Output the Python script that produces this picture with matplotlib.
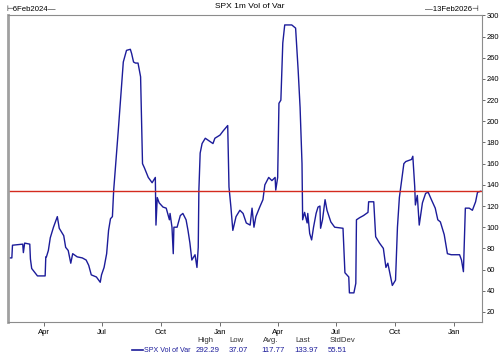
import matplotlib
matplotlib.use("Agg")
import matplotlib.pyplot as plt
import matplotlib.dates as mdates
import pandas as pd
import numpy as np

plt.rcParams['font.family'] = ['Liberation Sans', 'DejaVu Sans']

start_date = "2024-02-06"
end_date = "2026-02-13"
day_offsets = [0, 5, 6, 22, 23, 25, 33, 34, 36, 45, 57, 58, 59, 62, 65, 70, 76, 79, 86, 89, 93, 97, 100,
               107, 115, 121, 125, 129, 137, 143, 145, 149, 153, 156, 159, 162, 164, 171, 179, 184,
               190, 192, 195, 198, 202, 206, 209, 212, 218, 224, 229, 230, 232, 235, 241, 246, 251,
               252, 255, 257, 258, 263, 268, 272, 277, 280, 283, 286, 291, 294, 296, 297, 299, 302,
               307, 319, 322, 330, 335, 342, 344, 347, 350, 355, 361, 366, 371, 377, 380, 383, 386,
               392, 397, 400, 406, 411, 416, 417, 420, 422, 425, 428, 431, 442, 448, 452, 455, 458,
               459, 462, 466, 467, 470, 473, 476, 480, 483, 486, 487, 490, 494, 497, 503, 509, 522,
               525, 531, 532, 539, 542, 543, 548, 554, 561, 562, 570, 573, 579, 585, 589, 592, 599,
               604, 607, 610, 617, 620, 629, 631, 634, 635, 638, 641, 646, 651, 655, 660, 666, 670,
               674, 680, 685, 691, 704, 707, 710, 713, 719, 724, 729, 732, 737]
vol_of_var = [71, 71, 83, 84, 76, 85, 84, 70, 61, 54, 54, 72, 72, 78, 90, 100, 110, 99, 92, 81, 78, 66, 75,
              72, 71, 69, 64, 55, 53, 48, 55, 62, 75, 97, 108, 110, 135, 190, 256, 267,
              268, 264, 256, 255, 255, 242, 160, 156, 147, 142, 147, 102, 128, 123, 119, 118, 107,
              113, 100, 75, 100, 100, 111, 113, 107, 97, 85, 69, 74, 62, 81, 135, 170, 179,
              184, 179, 184, 187, 191, 196, 138, 119, 97, 110, 116, 113, 104, 102, 118, 100, 110,
              119, 126, 140, 147, 144, 147, 135, 147, 217, 220, 274, 291, 291, 288, 248, 213, 160,
              107, 114, 104, 113, 94, 88, 100, 113, 119, 120, 99, 107, 126, 116, 105, 100, 99,
              57, 53, 38, 38, 47, 107, 109, 111, 114, 124, 124, 91, 85, 80, 62, 66, 45,
              50, 100, 128, 160, 162, 164, 167, 138, 121, 130, 102, 123, 132, 133, 126, 118, 107,
              105, 93, 75, 74, 74, 69, 58, 118, 118, 116, 124, 133, 133.97]
stats_labels = ["High", "Low", "Avg.", "Last", "StdDev"]
stats_values = ["292.29", "37.07", "117.77", "133.97", "55.51"]
series_name = "SPX Vol of Var"
title = "SPX 1m Vol of Var"
last_value = 133.97
y_ticks = list(range(20, 301, 20))

dates = pd.Timestamp(start_date) + pd.to_timedelta(day_offsets, unit="D")

line_color = "#1c1c9a"
grey = "#8c8c8c"

fig = plt.figure(figsize=(5.0, 3.63), dpi=100)
ax = fig.add_axes([0.016, 0.113, 0.948, 0.846])
ax.plot(dates, vol_of_var, color=line_color, lw=1.0)
ax.axhline(last_value, color="#d42a1e", lw=1.0)

ax.set_xlim(pd.Timestamp(start_date) - pd.Timedelta(days=1), pd.Timestamp(end_date) + pd.Timedelta(days=1))
ax.set_ylim(10.5, 300.5)
ax.yaxis.tick_right()
ax.set_yticks(y_ticks)
ax.tick_params(axis="y", labelsize=5.4, length=2.5, width=0.6, color="#555555", pad=0.8)
ax.xaxis.set_major_locator(mdates.MonthLocator(bymonth=[1, 4, 7, 10]))
ax.xaxis.set_major_formatter(mdates.DateFormatter("%b"))
ax.tick_params(axis="x", labelsize=5.6, length=3, width=0.6, color="#555555", pad=2)
for s in ["top", "right", "bottom"]:
    ax.spines[s].set_color(grey)
    ax.spines[s].set_linewidth(0.8)
ax.spines["left"].set_color("#a0a0a0")
ax.spines["left"].set_linewidth(2.0)

fig.text(0.5, 0.981, title, ha="center", va="center", fontsize=6.0)
fig.text(0.012, 0.975, "\u22a26Feb2024\u2014", ha="left", va="center", fontsize=5.6)
fig.text(0.958, 0.975, "\u201413Feb2026\u22a3", ha="right", va="center", fontsize=5.6)

header_x = [205, 237, 271, 303, 342]
value_x = [208, 238, 273, 306, 337]
for lab, xv in zip(stats_labels, header_x):
    fig.text(xv / 500, 1 - 341 / 363, lab, ha="center", va="center", fontsize=5.6, color="#333333")
for val, xv in zip(stats_values, value_x):
    fig.text(xv / 500, 1 - 350 / 363, val, ha="center", va="center", fontsize=5.6, color=line_color)
fig.add_artist(plt.Line2D([132 / 500, 143 / 500], [1 - 350 / 363] * 2, color=line_color, lw=1.2))
fig.text(144 / 500, 1 - 350 / 363, series_name, ha="left", va="center", fontsize=5.1, color=line_color)

fig.savefig("out.png", dpi=100)
